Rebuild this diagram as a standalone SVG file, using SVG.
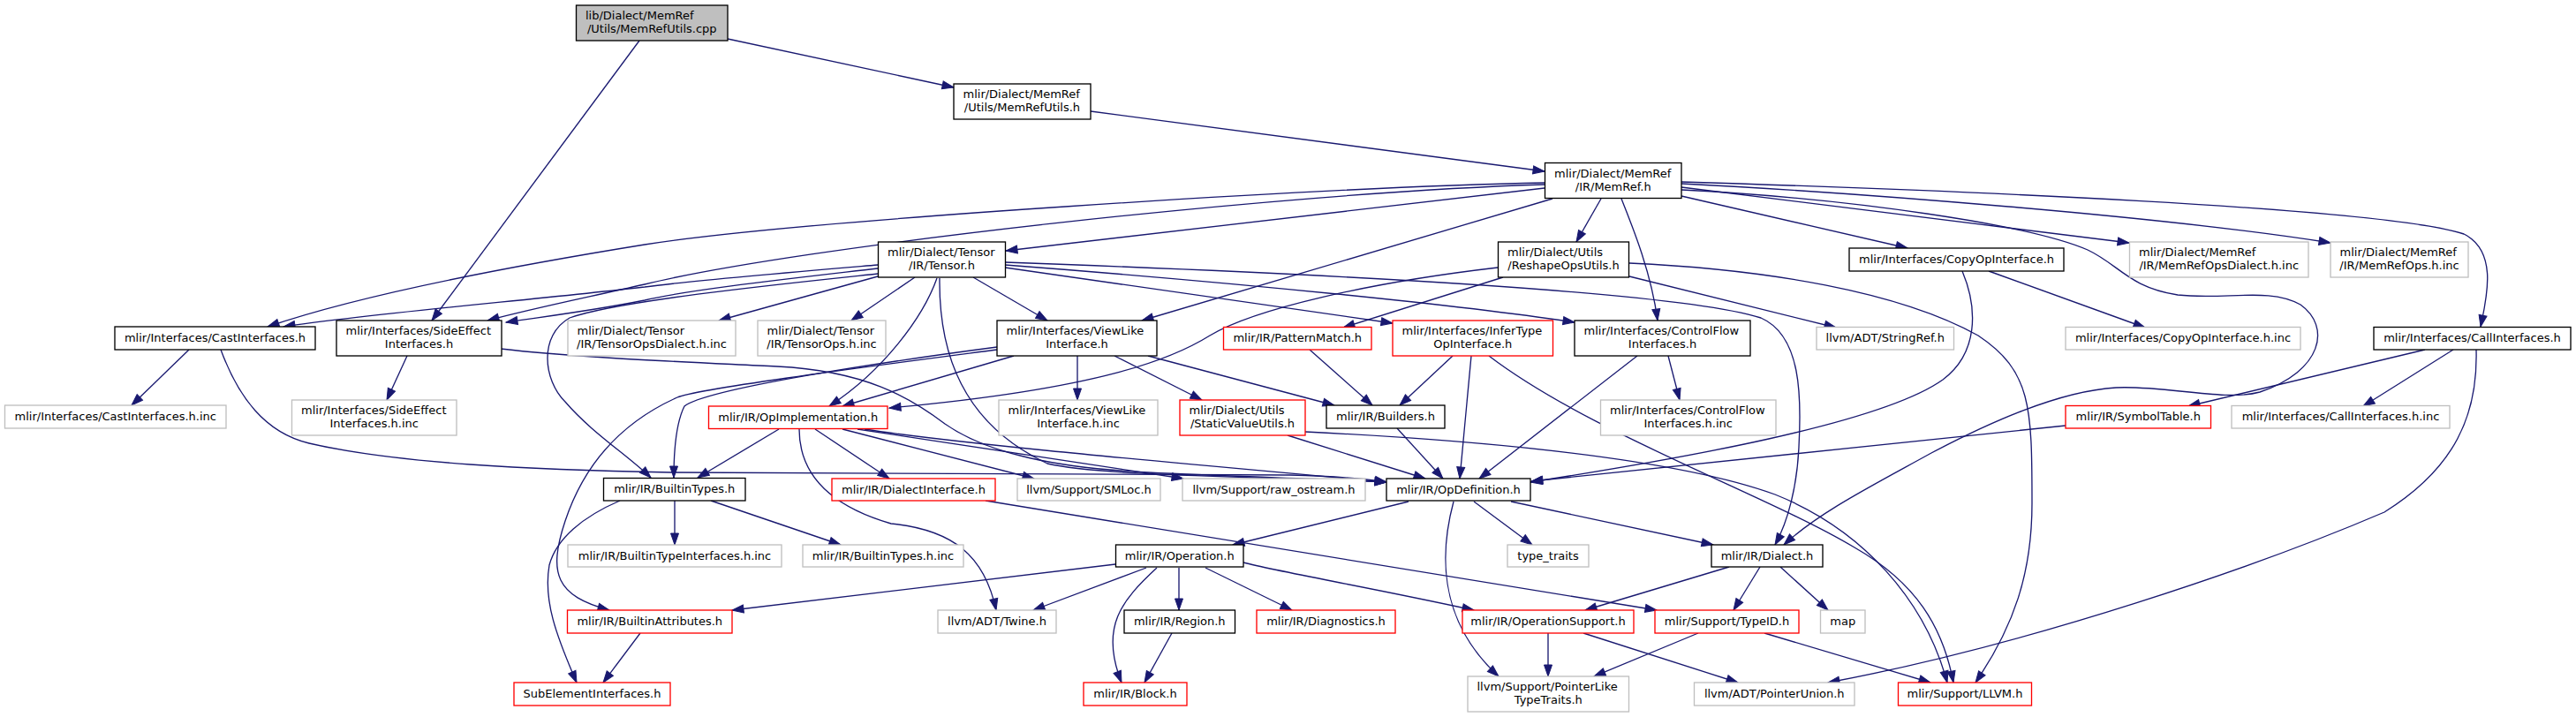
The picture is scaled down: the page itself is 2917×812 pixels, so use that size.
<svg xmlns="http://www.w3.org/2000/svg" width="2917" height="812" viewBox="0 0 2917 812">
<defs>
<marker id="ah" markerUnits="userSpaceOnUse" markerWidth="15" markerHeight="12" refX="13" refY="5.5" orient="auto" overflow="visible"><path d="M0,1 L13,5.5 L0,10 Z" fill="#191970" stroke="#191970" stroke-width="1"/></marker>
</defs>
<style>
rect{fill:#ffffff;stroke:#000000;stroke-width:1.33}
.g rect{stroke:#bfbfbf}
.r rect{stroke:#ff0000}
.root rect{fill:#bfbfbf;stroke:#000000}
text{font-family:"DejaVu Sans","Liberation Sans",sans-serif;font-size:13px;fill:#000000}
.c{text-anchor:middle}
.l{text-anchor:start}
#edges path{fill:none;stroke:#191970;stroke-width:1.33;marker-end:url(#ah)}
</style>
<rect x="0" y="0" width="2917" height="812" style="fill:#ffffff;stroke:none"/>
<g id="edges">
<path d="M824,44 L1080,99"/>
<path d="M724,46 L489,363"/>
<path d="M1235,126 L1749,194"/>
<path d="M1749,207 C1500,212 900,250 730,277 C600,298 420,330 303,370"/>
<path d="M1749,209 C1450,218 900,280 730,322 C650,340 600,350 552,363"/>
<path d="M1749,213 L1139,284"/>
<path d="M1758,225 L1293,363"/>
<path d="M1813,225 L1785,274"/>
<path d="M1836,225 C1850,260 1870,310 1877,363"/>
<path d="M1904,222 L2160,281"/>
<path d="M1904,212 L2411,275"/>
<path d="M1904,208 C2100,218 2450,245 2639,275"/>
<path d="M1904,206 C2200,215 2700,235 2790,265 C2830,285 2815,340 2809,370"/>
<path d="M1904,215 C2100,225 2300,255 2364,283 C2400,300 2410,325 2466,334 C2520,340 2570,325 2605,345 C2640,370 2630,420 2559,444 C2520,455 2450,436 2396,439 C2330,443 2250,480 2187,513 C2120,550 2060,580 2020,617"/>
<path d="M994,300 C900,308 780,318 730,325 C600,340 420,355 321,370"/>
<path d="M994,304 C900,315 780,328 730,340 C670,352 620,358 573,365"/>
<path d="M994,310 C900,320 700,340 645,360 C610,380 615,430 640,455 C670,490 710,515 737,541"/>
<path d="M994,313 L814,363"/>
<path d="M1036,314 L964,363"/>
<path d="M1061,315 C1045,360 1000,420 939,460"/>
<path d="M1064,315 C1063,400 1090,480 1186,525 C1250,540 1450,540 1570,546"/>
<path d="M1102,314 L1186,363"/>
<path d="M1138,303 L1577,366"/>
<path d="M1138,300 C1400,320 1650,345 1783,365"/>
<path d="M1138,297 C1500,310 1900,330 1994,360 C2040,380 2040,450 2037,506 C2035,550 2025,590 2010,617"/>
<path d="M1129,393 C1000,410 800,440 775,460 C765,480 763,510 763,541"/>
<path d="M1129,396 C1000,413 790,440 767,450 C700,480 660,530 640,590 C620,650 630,675 690,691"/>
<path d="M1148,403 L954,460"/>
<path d="M1220,403 L1220,453"/>
<path d="M1262,403 L1361,453"/>
<path d="M1300,403 L1511,459"/>
<path d="M1696,303 C1550,320 1420,350 1370,380 C1330,405 1250,440 1007,462"/>
<path d="M1702,314 L1521,371"/>
<path d="M1845,313 L2079,371"/>
<path d="M1845,298 C2000,305 2150,330 2240,380 C2300,420 2301,460 2301,570 C2301,650 2280,710 2237,773"/>
<path d="M2222,307 C2240,350 2240,400 2200,430 C2130,480 1900,520 1733,546"/>
<path d="M2252,307 L2429,371"/>
<path d="M2339,482 L1734,545"/>
<path d="M2746,396 L2478,460"/>
<path d="M2778,396 L2676,460"/>
<path d="M2804,396 C2806,470 2780,530 2700,580 C2560,640 2300,730 2070,773"/>
<path d="M1854,403 L1675,542"/>
<path d="M1889,403 L1902,453"/>
<path d="M1645,403 L1585,459"/>
<path d="M1666,403 L1653,542"/>
<path d="M1686,403 C1800,490 2000,560 2100,620 C2170,660 2200,710 2212,773"/>
<path d="M1458,493 L1614,542"/>
<path d="M1478,489 C1700,500 1900,520 2010,560 C2110,600 2180,680 2205,773"/>
<path d="M1483,396 L1554,459"/>
<path d="M1582,485 L1634,542"/>
<path d="M882,486 L790,541"/>
<path d="M923,486 L1007,542"/>
<path d="M954,486 L1171,542"/>
<path d="M971,486 L1340,542"/>
<path d="M979,486 C1100,505 1400,530 1570,546"/>
<path d="M905,486 C905,530 930,570 1009,593 C1080,600 1115,630 1128,691"/>
<path d="M567,395 C650,405 780,410 880,415 C980,420 1030,450 1070,480 C1120,515 1200,530 1300,535 C1400,540 1500,542 1570,546"/>
<path d="M250,396 C270,450 300,490 350,502 C450,525 600,532 760,535 L1460,538 C1500,539 1540,541 1570,546"/>
<path d="M461,403 L438,453"/>
<path d="M214,396 L149,459"/>
<path d="M764,567 L764,617"/>
<path d="M805,567 L952,617"/>
<path d="M702,567 C660,585 630,610 622,640 C615,680 630,720 653,773"/>
<path d="M725,717 L683,773"/>
<path d="M1263,639 L829,691"/>
<path d="M1298,643 L1170,691"/>
<path d="M1310,643 C1270,680 1245,710 1270,773"/>
<path d="M1335,643 L1335,691"/>
<path d="M1365,643 L1463,691"/>
<path d="M1408,637 C1450,648 1550,665 1669,691"/>
<path d="M1327,717 L1296,773"/>
<path d="M1116,567 L1876,691"/>
<path d="M1595,568 L1396,617"/>
<path d="M1669,568 L1735,617"/>
<path d="M1711,568 L1940,617"/>
<path d="M1646,568 C1632,620 1625,700 1697,766"/>
<path d="M1958,642 L1795,691"/>
<path d="M1993,642 L1963,691"/>
<path d="M2016,642 L2070,691"/>
<path d="M1753,717 L1753,766"/>
<path d="M1793,717 L1968,773"/>
<path d="M1923,717 L1805,766"/>
<path d="M1998,717 L2186,773"/>
</g>
<g id="n_cpp" class="root"><rect x="652.5" y="6" width="171.5" height="40"/><text class="l" x="663" y="22">lib/Dialect/MemRef</text><text class="c" x="738.25" y="37">/Utils/MemRefUtils.cpp</text></g>
<g id="n_memrefutils_h"><rect x="1080" y="95" width="155" height="40"/><text class="l" x="1090.5" y="111">mlir/Dialect/MemRef</text><text class="c" x="1157.5" y="126">/Utils/MemRefUtils.h</text></g>
<g id="n_memref_h"><rect x="1749.5" y="184.5" width="154.5" height="40"/><text class="l" x="1760" y="200.5">mlir/Dialect/MemRef</text><text class="c" x="1826.75" y="215.5">/IR/MemRef.h</text></g>
<g id="n_tensor_h"><rect x="994.5" y="274" width="144" height="40"/><text class="l" x="1005" y="290">mlir/Dialect/Tensor</text><text class="c" x="1066.5" y="305">/IR/Tensor.h</text></g>
<g id="n_reshape"><rect x="1696.5" y="274" width="148" height="40"/><text class="l" x="1707" y="290">mlir/Dialect/Utils</text><text class="c" x="1770.5" y="305">/ReshapeOpsUtils.h</text></g>
<g id="n_copyop"><rect x="2094" y="281" width="243" height="26"/><text class="c" x="2215.5" y="298">mlir/Interfaces/CopyOpInterface.h</text></g>
<g id="n_memrefopsdialect" class="g"><rect x="2411.5" y="274" width="202.5" height="40"/><text class="l" x="2422" y="290">mlir/Dialect/MemRef</text><text class="c" x="2512.75" y="305">/IR/MemRefOpsDialect.h.inc</text></g>
<g id="n_memrefops" class="g"><rect x="2639" y="274" width="156" height="40"/><text class="l" x="2649.5" y="290">mlir/Dialect/MemRef</text><text class="c" x="2717" y="305">/IR/MemRefOps.h.inc</text></g>
<g id="n_cast"><rect x="130" y="370" width="227" height="26"/><text class="c" x="243.5" y="387">mlir/Interfaces/CastInterfaces.h</text></g>
<g id="n_sideeffect"><rect x="381" y="363" width="187" height="40"/><text class="l" x="391.5" y="379">mlir/Interfaces/SideEffect</text><text class="c" x="474.5" y="394">Interfaces.h</text></g>
<g id="n_tensoropsdialect" class="g"><rect x="643" y="363" width="190" height="40"/><text class="l" x="653.5" y="379">mlir/Dialect/Tensor</text><text class="c" x="738" y="394">/IR/TensorOpsDialect.h.inc</text></g>
<g id="n_tensorops" class="g"><rect x="858" y="363" width="145" height="40"/><text class="l" x="868.5" y="379">mlir/Dialect/Tensor</text><text class="c" x="930.5" y="394">/IR/TensorOps.h.inc</text></g>
<g id="n_viewlike"><rect x="1129" y="363" width="181" height="40"/><text class="l" x="1139.5" y="379">mlir/Interfaces/ViewLike</text><text class="c" x="1219.5" y="394">Interface.h</text></g>
<g id="n_patternmatch" class="r"><rect x="1385.5" y="370.5" width="167.5" height="25.5"/><text class="c" x="1469.25" y="387">mlir/IR/PatternMatch.h</text></g>
<g id="n_infertype" class="r"><rect x="1577" y="363" width="181.5" height="40"/><text class="l" x="1587.5" y="379">mlir/Interfaces/InferType</text><text class="c" x="1667.75" y="394">OpInterface.h</text></g>
<g id="n_controlflow"><rect x="1783" y="363" width="199" height="40"/><text class="l" x="1793.5" y="379">mlir/Interfaces/ControlFlow</text><text class="c" x="1882.5" y="394">Interfaces.h</text></g>
<g id="n_stringref" class="g"><rect x="2057" y="370.5" width="155.5" height="25.5"/><text class="c" x="2134.75" y="387">llvm/ADT/StringRef.h</text></g>
<g id="n_copyop_inc" class="g"><rect x="2339" y="370.5" width="266" height="25.5"/><text class="c" x="2472" y="387">mlir/Interfaces/CopyOpInterface.h.inc</text></g>
<g id="n_call"><rect x="2688" y="370.5" width="223" height="25.5"/><text class="c" x="2799.5" y="387">mlir/Interfaces/CallInterfaces.h</text></g>
<g id="n_cast_inc" class="g"><rect x="5.5" y="459" width="250.5" height="26"/><text class="c" x="130.75" y="476">mlir/Interfaces/CastInterfaces.h.inc</text></g>
<g id="n_sideeffect_inc" class="g"><rect x="330.5" y="453" width="186.5" height="40"/><text class="l" x="341" y="469">mlir/Interfaces/SideEffect</text><text class="c" x="423.75" y="484">Interfaces.h.inc</text></g>
<g id="n_opimpl" class="r"><rect x="802.5" y="460" width="202.5" height="25.5"/><text class="c" x="903.75" y="477">mlir/IR/OpImplementation.h</text></g>
<g id="n_viewlike_inc" class="g"><rect x="1131" y="453" width="180" height="40"/><text class="l" x="1141.5" y="469">mlir/Interfaces/ViewLike</text><text class="c" x="1221" y="484">Interface.h.inc</text></g>
<g id="n_staticvalue" class="r"><rect x="1336" y="453" width="142" height="40"/><text class="l" x="1346.5" y="469">mlir/Dialect/Utils</text><text class="c" x="1407" y="484">/StaticValueUtils.h</text></g>
<g id="n_builders"><rect x="1502" y="459" width="134" height="26"/><text class="c" x="1569" y="476">mlir/IR/Builders.h</text></g>
<g id="n_controlflow_inc" class="g"><rect x="1812.5" y="453" width="198.5" height="40"/><text class="l" x="1823" y="469">mlir/Interfaces/ControlFlow</text><text class="c" x="1911.75" y="484">Interfaces.h.inc</text></g>
<g id="n_symboltable" class="r"><rect x="2339" y="459.5" width="164.5" height="25.5"/><text class="c" x="2421.25" y="476">mlir/IR/SymbolTable.h</text></g>
<g id="n_call_inc" class="g"><rect x="2527" y="459.5" width="247" height="25.5"/><text class="c" x="2650.5" y="476">mlir/Interfaces/CallInterfaces.h.inc</text></g>
<g id="n_builtintypes"><rect x="683.5" y="541.5" width="160.5" height="25.5"/><text class="c" x="763.75" y="558">mlir/IR/BuiltinTypes.h</text></g>
<g id="n_dialectinterface" class="r"><rect x="942" y="542" width="185" height="25"/><text class="c" x="1034.5" y="558.5">mlir/IR/DialectInterface.h</text></g>
<g id="n_smloc" class="g"><rect x="1152" y="542" width="162" height="25"/><text class="c" x="1233" y="558.5">llvm/Support/SMLoc.h</text></g>
<g id="n_raw_ostream" class="g"><rect x="1339" y="542" width="207" height="25"/><text class="c" x="1442.5" y="558.5">llvm/Support/raw_ostream.h</text></g>
<g id="n_opdefinition"><rect x="1570" y="542" width="163" height="25"/><text class="c" x="1651.5" y="558.5">mlir/IR/OpDefinition.h</text></g>
<g id="n_builtintypeinterfaces_inc" class="g"><rect x="643" y="617" width="242" height="25"/><text class="c" x="764" y="633.5">mlir/IR/BuiltinTypeInterfaces.h.inc</text></g>
<g id="n_builtintypes_inc" class="g"><rect x="909" y="617" width="182" height="25"/><text class="c" x="1000" y="633.5">mlir/IR/BuiltinTypes.h.inc</text></g>
<g id="n_operation"><rect x="1263.5" y="617" width="144.5" height="25"/><text class="c" x="1335.75" y="633.5">mlir/IR/Operation.h</text></g>
<g id="n_type_traits" class="g"><rect x="1707" y="617" width="92" height="25"/><text class="c" x="1753" y="633.5">type_traits</text></g>
<g id="n_dialect"><rect x="1938" y="617" width="126" height="25"/><text class="c" x="2001" y="633.5">mlir/IR/Dialect.h</text></g>
<g id="n_builtinattributes" class="r"><rect x="642.5" y="691" width="186.5" height="26"/><text class="c" x="735.75" y="708">mlir/IR/BuiltinAttributes.h</text></g>
<g id="n_twine" class="g"><rect x="1062" y="691" width="134" height="26"/><text class="c" x="1129" y="708">llvm/ADT/Twine.h</text></g>
<g id="n_region"><rect x="1273" y="691" width="125.5" height="26"/><text class="c" x="1335.75" y="708">mlir/IR/Region.h</text></g>
<g id="n_diagnostics" class="r"><rect x="1423" y="691" width="157" height="26"/><text class="c" x="1501.5" y="708">mlir/IR/Diagnostics.h</text></g>
<g id="n_operationsupport" class="r"><rect x="1656" y="691" width="194" height="26"/><text class="c" x="1753" y="708">mlir/IR/OperationSupport.h</text></g>
<g id="n_typeid" class="r"><rect x="1874" y="691" width="163" height="26"/><text class="c" x="1955.5" y="708">mlir/Support/TypeID.h</text></g>
<g id="n_map" class="g"><rect x="2061.5" y="691" width="50.5" height="26"/><text class="c" x="2086.75" y="708">map</text></g>
<g id="n_subelement" class="r"><rect x="582" y="773" width="177" height="26"/><text class="c" x="670.5" y="790">SubElementInterfaces.h</text></g>
<g id="n_block" class="r"><rect x="1227" y="773" width="117" height="26"/><text class="c" x="1285.5" y="790">mlir/IR/Block.h</text></g>
<g id="n_pointerlike" class="g"><rect x="1662" y="766" width="182.5" height="40"/><text class="l" x="1672.5" y="782">llvm/Support/PointerLike</text><text class="c" x="1753.25" y="797">TypeTraits.h</text></g>
<g id="n_pointerunion" class="g"><rect x="1918.5" y="773" width="181.5" height="26"/><text class="c" x="2009.25" y="790">llvm/ADT/PointerUnion.h</text></g>
<g id="n_llvm" class="r"><rect x="2149.5" y="773" width="151" height="26"/><text class="c" x="2225" y="790">mlir/Support/LLVM.h</text></g>
</svg>
